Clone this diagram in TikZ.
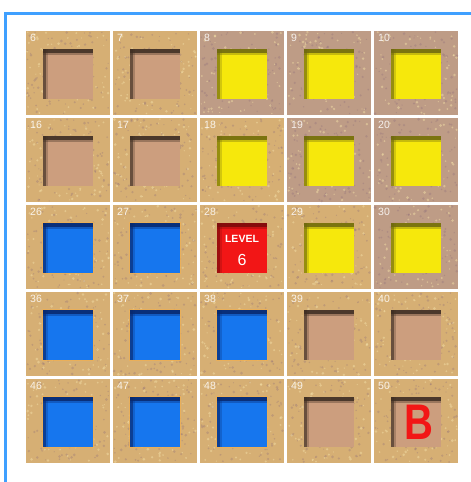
\documentclass[tikz,border=0pt]{standalone}
\usepackage{fontspec}
\setmainfont{Liberation Sans}
\definecolor{frameblue}{HTML}{3FA0FF}
\definecolor{bgTan}{HTML}{D6AF74}
\definecolor{bgMauve}{HTML}{BE9C86}
\definecolor{speckD}{HTML}{8A6A7A}
\definecolor{speckL}{HTML}{F2DEA6}
\definecolor{inTan}{HTML}{CC9E7E}
\definecolor{shTan}{HTML}{3E2E22}
\definecolor{inYel}{HTML}{F6E80C}
\definecolor{shYel}{HTML}{6E6810}
\definecolor{inBlue}{HTML}{1676EE}
\definecolor{shBlue}{HTML}{08286E}
\definecolor{inRed}{HTML}{F21616}
\definecolor{shRed}{HTML}{7A0C0C}
\definecolor{rimOr}{HTML}{F2B050}
\tikzset{
  tilebox/.style={draw=none, minimum width=84pt, minimum height=84pt, inner sep=0pt, outer sep=0pt},
  innerbox/.style={draw=none, minimum width=50pt, minimum height=50pt, inner sep=0pt, outer sep=0pt},
  numlabel/.style={anchor=north west, inner sep=0pt, text=white, text opacity=0.85, font=\fontsize{10.5}{10.5}\selectfont},
}
\begin{document}
\begin{tikzpicture}[x=1pt,y=-1pt]
\useasboundingbox (0,0) rectangle (471,482);
\fill[white] (0,0) rectangle (471,482);
\draw[frameblue, line width=2.2pt] (5.5,482) -- (5.5,13.5) -- (471,13.5);
\pgfmathsetseed{11}
\foreach \c/\r/\n/\bg/\inn/\sh in {
  0/0/6/bgTan/inTan/shTan, 1/0/7/bgTan/inTan/shTan, 2/0/8/bgMauve/inYel/shYel, 3/0/9/bgMauve/inYel/shYel, 4/0/10/bgMauve/inYel/shYel,
  0/1/16/bgTan/inTan/shTan, 1/1/17/bgTan/inTan/shTan, 2/1/18/bgTan/inYel/shYel, 3/1/19/bgMauve/inYel/shYel, 4/1/20/bgMauve/inYel/shYel,
  0/2/26/bgTan/inBlue/shBlue, 1/2/27/bgTan/inBlue/shBlue, 2/2/28/bgTan/inRed/shRed, 3/2/29/bgTan/inYel/shYel, 4/2/30/bgMauve/inYel/shYel,
  0/3/36/bgTan/inBlue/shBlue, 1/3/37/bgTan/inBlue/shBlue, 2/3/38/bgTan/inBlue/shBlue, 3/3/39/bgTan/inTan/shTan, 4/3/40/bgTan/inTan/shTan,
  0/4/46/bgTan/inBlue/shBlue, 1/4/47/bgTan/inBlue/shBlue, 2/4/48/bgTan/inBlue/shBlue, 3/4/49/bgTan/inTan/shTan, 4/4/50/bgTan/inTan/shTan}{
  \node[tilebox, fill=\bg] (t\n) at ({68+87*\c},{73+87*\r}) {};
  \foreach \k in {1,...,90}{
    \fill[speckD, opacity=0.3] ([shift={(rnd*82-41,rnd*82-41)}]t\n.center) circle ({0.6+rnd*0.9});
  }
  \foreach \k in {1,...,70}{
    \fill[speckL, opacity=0.5] ([shift={(rnd*82-41,rnd*82-41)}]t\n.center) circle ({0.6+rnd*0.9});
  }
  \node[innerbox, fill=\inn] (s\n) at ([shift={(0,1)}]t\n.center) {};
  \fill[\sh, opacity=0.9] (s\n.north west) rectangle ([yshift=-3.5pt]s\n.north east);
  \fill[\sh, opacity=0.35] ([yshift=-3.5pt]s\n.north west) rectangle ([yshift=-6pt]s\n.north east);
  \fill[\sh, opacity=0.7] (s\n.north west) rectangle ([xshift=2.5pt]s\n.south west);
  \fill[\sh, opacity=0.25] ([xshift=2.5pt]s\n.north west) rectangle ([xshift=4.5pt]s\n.south west);
  \node[numlabel] (n\n) at ([shift={(4,3)}]t\n.north west) {\n};
}
\foreach \n in {26,27,36,37,38,46,47,48}{
  \draw[rimOr, line width=1.2pt, opacity=0.75] ([shift={(-0.6,-0.6)}]s\n.north west) rectangle ([shift={(0.6,0.6)}]s\n.south east);
}
\node[text=white, font=\bfseries\fontsize{10.5}{10.5}\selectfont, inner sep=0pt] (lvl) at ([shift={(0,-9.5)}]s28.center) {LEVEL};
\node[text=white, font=\fontsize{16}{16}\selectfont, inner sep=0pt] (six) at ([shift={(0,12)}]s28.center) {6};
\node[text=inRed, font=\bfseries\fontsize{50}{50}\selectfont, inner sep=0pt, xscale=0.8] (bee) at ([shift={(3,0)}]s50.center) {B};
\end{tikzpicture}
\end{document}
